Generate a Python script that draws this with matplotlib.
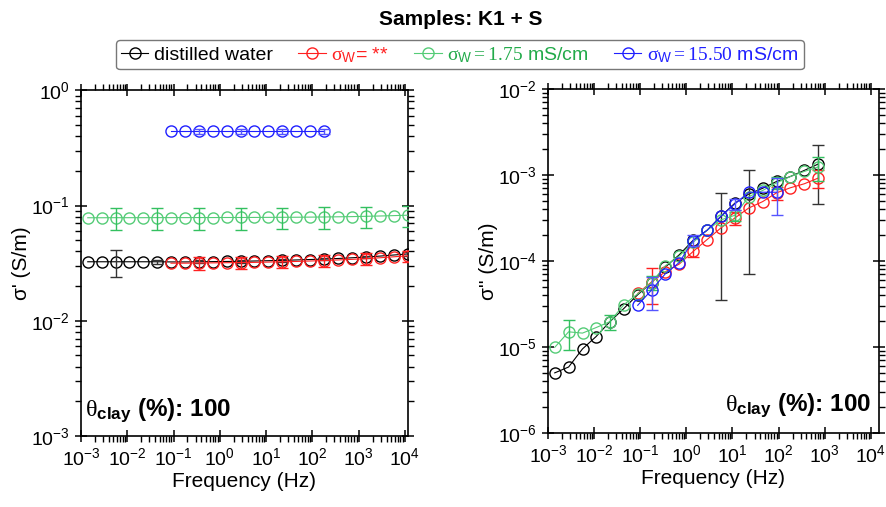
import numpy as np
import matplotlib
matplotlib.use("Agg")
import matplotlib.pyplot as plt
from matplotlib.ticker import LogLocator, NullFormatter

plt.rcParams["font.family"] = ["Liberation Sans", "DejaVu Sans"]
plt.rcParams["mathtext.fontset"] = "custom"
plt.rcParams["mathtext.rm"] = "Liberation Serif"
plt.rcParams["mathtext.it"] = "Liberation Serif:italic"
plt.rcParams["mathtext.bf"] = "Liberation Sans:bold"
plt.rcParams["mathtext.sf"] = "Liberation Sans"

# Frequencies (Hz)
freq = [0.0014, 0.0028, 0.0056, 0.011, 0.022, 0.044, 0.088, 0.176, 0.35, 0.7,
        1.4, 2.8, 5.6, 11.25, 22.5, 45, 90, 180, 360, 720, 1440, 2880, 5760, 11520]

# sigma' (left panel)
re_black = [0.0325, 0.0325, 0.0325, 0.0325, 0.0325, 0.0325, 0.0324, 0.0324, 0.0325, 0.0326,
            0.0327, 0.0328, 0.0330, 0.0332, 0.0334, 0.0337, 0.0340, 0.0343, 0.0347, 0.0352,
            0.0357, 0.0364, 0.0372, 0.0380]
re_black_err = [0, 0, 0.0085, 0, 0, 0.0015, 0, 0, 0.001, 0, 0, 0.0008, 0, 0, 0.0008, 0,
                0, 0.0008, 0, 0, 0.001, 0, 0, 0.0012]
re_red = [0.0316, 0.0316, 0.0317, 0.0318, 0.0319, 0.0320, 0.0321, 0.0323, 0.0325, 0.0327,
          0.0330, 0.0333, 0.0337, 0.0341, 0.0346, 0.0352, 0.0359, 0.0366]
re_red_err = [0, 0, 0.004, 0, 0, 0.004, 0, 0, 0.004, 0, 0, 0.004, 0, 0, 0.004, 0, 0, 0.004]
re_green = [0.0783, 0.0783, 0.0784, 0.0784, 0.0784, 0.0785, 0.0785, 0.0785, 0.0786, 0.0786,
            0.0787, 0.0787, 0.0788, 0.0789, 0.0790, 0.0791, 0.0793, 0.0795, 0.0798, 0.0801,
            0.0806, 0.0811, 0.0817, 0.0824]
re_green_err = [0, 0, 0.017, 0, 0, 0.017, 0, 0, 0.017, 0, 0, 0.017, 0, 0, 0.017, 0,
                0, 0.017, 0, 0, 0.017, 0, 0, 0.017]
re_blue = [0.44, 0.44, 0.44, 0.44, 0.44, 0.44, 0.44, 0.44, 0.44, 0.44, 0.44, 0.44]
re_blue_err = [0, 0, 0.025, 0, 0, 0.025, 0, 0, 0.025, 0, 0, 0.025]

# sigma'' (right panel)
im_black = [5.0e-6, 5.85e-6, 9.5e-6, 1.32e-5, 1.97e-5, 2.8e-5, 4.05e-5, 5.6e-5, 8.5e-5, 1.18e-4,
            1.74e-4, 2.27e-4, 3.3e-4, 4.7e-4, 6.0e-4, 7.0e-4, 8.4e-4, 9.6e-4, 1.13e-3, 1.34e-3]
im_black_err = [0, 0, 0, 0, 0, 0, 0, 0, 0, 0, 0, 0, 2.95e-4, 0, 5.3e-4, 0, 0, 0, 0, 8.8e-4]
im_red = [4.2e-5, 5.7e-5, 7.5e-5, 9.2e-5, 1.29e-4, 1.77e-4, 2.42e-4, 3.16e-4, 4.13e-4, 4.9e-4,
          6.2e-4, 7.1e-4, 7.9e-4, 9.2e-4]
im_red_err = [0, 2.5e-5, 0, 0, 1.7e-5, 0, 0, 5.5e-5, 0, 0, 1.1e-4, 0, 0, 2.2e-4]
im_green = [9.9e-6, 1.5e-5, 1.45e-5, 1.68e-5, 1.97e-5, 3.1e-5, 4.15e-5, 5.6e-5, 8.8e-5, 1.14e-4,
            1.65e-4, 2.27e-4, 3.0e-4, 3.4e-4, 5.6e-4, 6.6e-4, 8.1e-4, 9.6e-4, 1.1e-3, 1.24e-3]
im_green_err = [0, 5.7e-6, 0, 0, 3.8e-6, 0, 0, 1.0e-5, 0, 0, 0, 0, 0, 5e-5, 0, 0, 1.3e-4, 0, 0, 4e-4]
im_blue = [3.05e-5, 4.6e-5, 7.1e-5, 9.6e-5, 1.73e-4, 2.27e-4, 3.3e-4, 4.6e-4, 6.3e-4, 6.3e-4, 6.3e-4]
im_blue_err = [0, 1.9e-5, 0, 0, 2.5e-5, 0, 0, 7e-5, 0, 0, 2.9e-4]

labels = ["distilled water", r"$\mathrm{\sigma}_{\mathsf{W}}$= **",
          r"$\mathrm{\sigma}_{\mathsf{W}}\mathrm{=1.75}$ mS/cm",
          r"$\mathrm{\sigma}_{\mathsf{W}}\mathrm{=15.50}$ mS/cm"]
colors = ["black", "#ff2020", "#55cc77", "#2020ff"]
err_colors = ["#333333", "#ff2020", "#33c060", "#5555ff"]
text_colors = ["black", "#ff2020", "#22aa4a", "#2020ff"]


def draw(ax, x, y, err, i):
    x = np.asarray(x)
    y = np.asarray(y)
    err = np.asarray(err)
    line, = ax.plot(x, y, "-o", color=colors[i], lw=0.8, ms=8, mfc="none", mew=1.0,
                    label=labels[i], zorder=3 + i)
    m = err > 0
    ax.errorbar(x[m], y[m], yerr=err[m], fmt="none", ecolor=err_colors[i], elinewidth=1.0,
                capsize=4, capthick=1.0, zorder=3 + i)
    return line


def style(ax, ylim):
    ax.set_xscale("log")
    ax.set_yscale("log")
    ax.set_ylim(*ylim)
    ax.xaxis.set_major_locator(LogLocator(base=10, numticks=20))
    ax.xaxis.set_minor_locator(LogLocator(base=10, subs=np.arange(2, 10), numticks=20))
    ax.yaxis.set_major_locator(LogLocator(base=10, numticks=20))
    ax.yaxis.set_minor_locator(LogLocator(base=10, subs=np.arange(2, 10), numticks=20))
    ax.xaxis.set_minor_formatter(NullFormatter())
    ax.yaxis.set_minor_formatter(NullFormatter())
    ax.tick_params(which="major", direction="inout", length=9, width=1.1, labelsize=14,
                   top=True, right=True)
    ax.tick_params(which="minor", direction="out", length=4, width=1.0, top=True, right=True)
    for s in ax.spines.values():
        s.set_linewidth(1.2)
    ax.set_xlabel("Frequency (Hz)", fontsize=15, labelpad=2)


fig = plt.figure(figsize=(8.86, 5.07), dpi=100)
ax1 = fig.add_axes([0.0914, 0.140, 0.369, 0.682])
ax2 = fig.add_axes([0.6185, 0.146, 0.3736, 0.6785])

handles = []
handles.append(draw(ax1, freq, re_black, re_black_err, 0))
handles.append(draw(ax1, freq[6:], re_red, re_red_err, 1))
handles.append(draw(ax1, freq, re_green, re_green_err, 2))
handles.append(draw(ax1, freq[6:18], re_blue, re_blue_err, 3))

draw(ax2, freq[:20], im_black, im_black_err, 0)
draw(ax2, freq[6:20], im_red, im_red_err, 1)
draw(ax2, freq[:20], im_green, im_green_err, 2)
draw(ax2, freq[6:17], im_blue, im_blue_err, 3)

style(ax1, (1e-3, 1))
ax1.set_xlim(1e-3, 1.16e4)
ax1.set_ylabel("σ' (S/m)", fontsize=15, labelpad=0)
style(ax2, (1e-6, 1e-2))
ax2.set_xlim(1e-3, 1.5e4)
ax2.set_ylabel("σ'' (S/m)", fontsize=15, labelpad=0)

theta = r"$\mathrm{\theta}_{\mathbf{clay}}$ (%): 100"
ax1.text(0.012, 0.035, theta, transform=ax1.transAxes,
         fontsize=17.5, fontweight="bold", ha="left", va="bottom")
ax2.text(0.975, 0.04, theta, transform=ax2.transAxes,
         fontsize=17.5, fontweight="bold", ha="right", va="bottom")

fig.text(0.52, 0.962, "Samples: K1 + S", fontsize=15, fontweight="bold", ha="center", va="center")

leg = fig.legend(handles=handles, loc="center", bbox_to_anchor=(0.519, 0.892), ncol=4,
                 fontsize=14, handlelength=1.4, handletextpad=0.3, columnspacing=1.3,
                 borderpad=0.25, fancybox=True, edgecolor="#777777", framealpha=1)
leg.get_frame().set_linewidth(1.0)
for t, c in zip(leg.get_texts(), text_colors):
    t.set_color(c)

fig.savefig("out.png", dpi=100)
